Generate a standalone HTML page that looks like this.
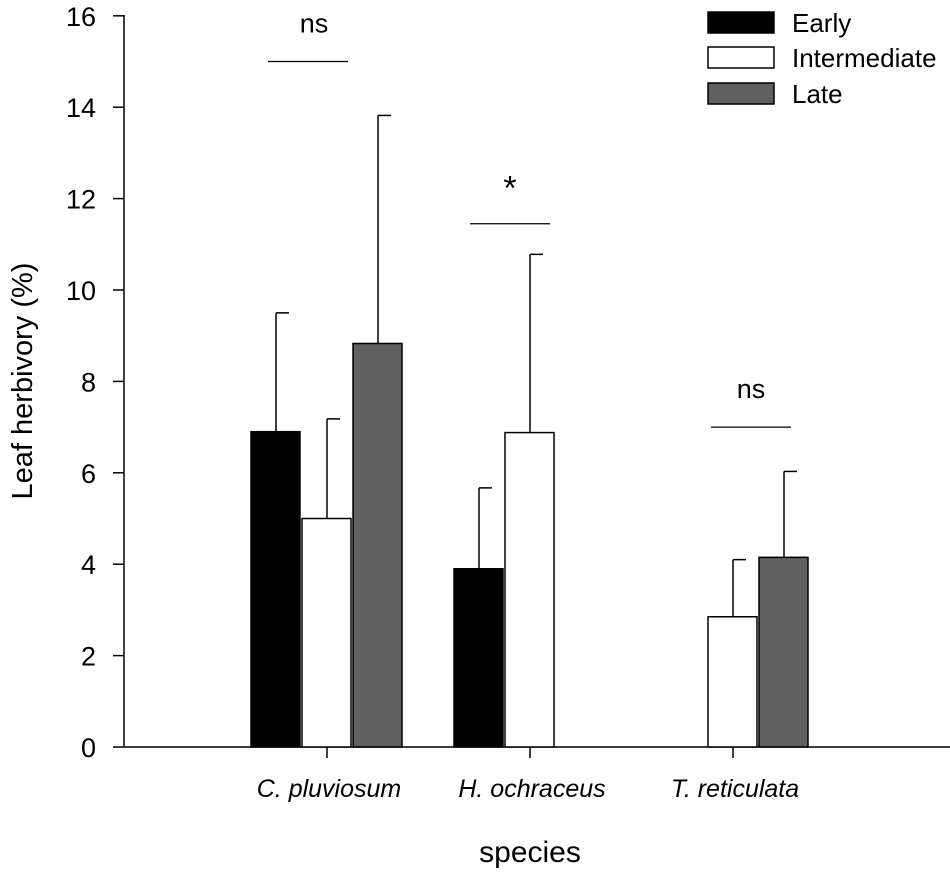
<!DOCTYPE html>
<html><head><meta charset="utf-8"><style>
body{margin:0;background:#fff}
svg text{font-family:"Liberation Sans",Arial,sans-serif;fill:#000}
</style></head><body>
<svg id="c" width="950" height="870" xmlns="http://www.w3.org/2000/svg"></svg>
<script>
const categories=["C. pluviosum","H. ochraceus","T. reticulata"];
const seriesNames=["Early","Intermediate","Late"];
const earlyVals=[6.9,3.9,null];
const earlyErr=[9.5,5.67,null];
const interVals=[5.0,6.88,2.85];
const interErr=[7.18,10.78,4.1];
const lateVals=[8.83,null,4.15];
const lateErr=[13.82,null,6.03];
const yTicks=[0,2,4,6,8,10,12,14,16];
const sigLabels=["ns","*","ns"];
const sigLevels=[15,11.45,7.0];

const NS="http://www.w3.org/2000/svg";
const svg=document.getElementById('c');
function el(t,a,p){const e=document.createElementNS(NS,t);for(const k in a)e.setAttribute(k,a[k]);(p||svg).appendChild(e);return e;}
const x0=124,y0=747,pxPerUnit=45.7;
const y=v=>y0-v*pxPerUnit;
const groupStart=i=>251+i*203;
const barW=50;
const slotX=(g,s)=>groupStart(g)+s*51;
const fills=["#000","#fff","#606060"];
const vals=[earlyVals,interVals,lateVals],errs=[earlyErr,interErr,lateErr];

let a=el('line',{x1:x0,y1:15,x2:x0,y2:y0,stroke:'#000','stroke-width':1.5});

a=el('line',{x1:x0,y1:y0,x2:950,y2:y0,stroke:'#000','stroke-width':1.5});

yTicks.forEach(t=>{
 const l=el('line',{x1:113,x2:x0,y1:y(t),y2:y(t),stroke:'#000','stroke-width':1.5});
 
 const tx=el('text',{x:96,y:y(t)+10,'text-anchor':'end','font-size':27});tx.textContent=t;
 
});
categories.forEach((c,i)=>{
 const cx=groupStart(i)+76;
 const l=el('line',{x1:cx,x2:cx,y1:y0,y2:y0+11,stroke:'#000','stroke-width':1.5});
 
 const tx=el('text',{x:cx+2,y:797,'text-anchor':'middle','font-size':25,'font-style':'italic'});tx.textContent=c;
 
});
vals.forEach((arr,s)=>arr.forEach((v,g)=>{
 if(v==null)return;
 const bx=slotX(g,s);
 const eb=el('line',{x1:bx+barW/2,x2:bx+barW/2,y1:y(errs[s][g]),y2:y(v),stroke:'#000','stroke-width':1.5});
 
 const cap=el('line',{x1:bx+barW/2,x2:bx+barW/2+13,y1:y(errs[s][g]),y2:y(errs[s][g]),stroke:'#000','stroke-width':1.5});
 
 const r=el('rect',{x:bx,y:y(v),width:barW-1,height:y0-y(v),fill:fills[s],stroke:'#000','stroke-width':1.5});
 
}));
const sigMid=[308,510,751];
sigLabels.forEach((s,g)=>{
 const mid=sigMid[g];
 const l=el('line',{x1:mid-40,x2:mid+40,y1:y(sigLevels[g]),y2:y(sigLevels[g]),stroke:'#000','stroke-width':1.2});
 
 const t=el('text',{x:mid+(g==0?6:0),y:y(sigLevels[g])-(s=='*'?24:29),'text-anchor':'middle','font-size':s=='*'?34:27});t.textContent=s;
 
});
const legY=[12,47,83];
seriesNames.forEach((n,i)=>{
 const r=el('rect',{x:708,y:legY[i],width:66,height:21,fill:fills[i],stroke:'#000','stroke-width':1.5});
 
 const t=el('text',{x:792,y:legY[i]+20,'font-size':26});t.textContent=n;
 
});
let t=el('text',{x:530,y:862,'text-anchor':'middle','font-size':30});t.textContent='species';

t=el('text',{x:0,y:0,'text-anchor':'middle','font-size':29,transform:'translate(32,381) rotate(-90)'});t.textContent='Leaf herbivory (%)';

</script>
</body></html>
